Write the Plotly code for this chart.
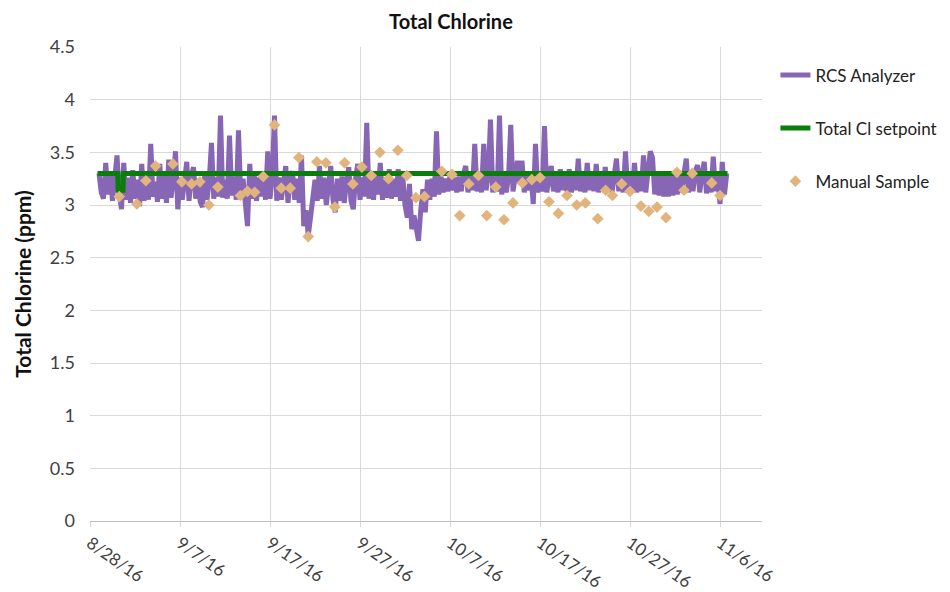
import pandas as pd
import plotly.graph_objects as go

# ---------------- data ----------------
# RCS Analyzer readings, 4 per day (every 6 h) starting 2016-08-29 00:00
rcs_start = "2016-08-29 00:00"
rcs_values = [
    3.30, 3.12, 3.06, 3.40,  # 8/29
    3.10, 3.28, 3.04, 3.22,  # 8/30
    3.47, 3.10, 2.96, 3.40,  # 8/31
    3.05, 3.26, 3.02, 3.33,  # 9/1
    3.06, 3.24, 2.99, 3.39,  # 9/2
    3.04, 3.27, 3.05, 3.58,  # 9/3
    3.08, 3.22, 3.03, 3.39,  # 9/4
    3.06, 3.28, 3.02, 3.43,  # 9/5
    3.07, 3.25, 3.51, 2.96,  # 9/6
    3.26, 3.05, 3.24, 3.41,  # 9/7
    3.04, 3.27, 3.36, 3.06,  # 9/8
    3.25, 3.03, 2.98, 3.28,  # 9/9
    3.05, 3.24, 3.59, 3.06,  # 9/10
    3.26, 3.08, 3.85, 3.07,  # 9/11
    3.24, 3.06, 3.66, 3.09,  # 9/12
    3.27, 3.05, 3.71, 3.08,  # 9/13
    3.25, 3.07, 2.80, 3.39,  # 9/14
    3.06, 3.28, 3.04, 3.26,  # 9/15
    3.08, 3.30, 3.05, 3.51,  # 9/16
    3.06, 3.27, 3.85, 3.04,  # 9/17
    3.26, 3.05, 3.24, 3.37,  # 9/18
    3.02, 3.26, 3.32, 3.05,  # 9/19
    3.25, 3.02, 3.47, 2.80,  # 9/20
    2.95, 2.71, 2.88, 3.05,  # 9/21
    3.24, 3.04, 3.37, 3.06,  # 9/22
    3.26, 3.00, 3.24, 3.37,  # 9/23
    3.05, 2.93, 3.25, 3.04,  # 9/24
    3.27, 3.02, 3.22, 3.36,  # 9/25
    3.04, 2.96, 3.25, 3.39,  # 9/26
    3.05, 3.26, 3.08, 3.78,  # 9/27
    3.06, 3.27, 3.05, 3.28,  # 9/28
    3.10, 3.40, 3.05, 3.26,  # 9/29
    3.07, 3.34, 3.06, 3.25,  # 9/30
    3.08, 3.34, 3.04, 3.27,  # 10/1
    3.00, 2.88, 3.20, 2.77,  # 10/2
    2.90, 2.80, 2.66, 2.95,  # 10/3
    3.15, 2.93, 3.24, 3.05,  # 10/4
    3.25, 3.08, 3.70, 3.10,  # 10/5
    3.27, 3.12, 3.25, 3.13,  # 10/6
    3.28, 3.14, 3.26, 3.12,  # 10/7
    3.27, 3.13, 3.30, 3.37,  # 10/8
    3.12, 3.28, 3.14, 3.58,  # 10/9
    3.13, 3.27, 3.12, 3.58,  # 10/10
    3.14, 3.28, 3.81, 3.12,  # 10/11
    3.27, 3.13, 3.85, 3.10,  # 10/12
    3.28, 3.12, 3.26, 3.76,  # 10/13
    3.13, 3.27, 3.42, 3.20,  # 10/14
    3.42, 3.12, 3.28, 3.14,  # 10/15
    3.27, 3.01, 3.58, 3.12,  # 10/16
    3.28, 3.13, 3.75, 3.12,  # 10/17
    3.27, 3.37, 3.13, 3.28,  # 10/18
    3.12, 3.34, 3.14, 3.29,  # 10/19
    3.13, 3.34, 3.12, 3.30,  # 10/20
    3.14, 3.44, 3.13, 3.29,  # 10/21
    3.12, 3.40, 3.14, 3.30,  # 10/22
    3.13, 3.39, 3.12, 3.31,  # 10/23
    3.14, 3.36, 3.13, 3.32,  # 10/24
    3.12, 3.30, 3.44, 3.13,  # 10/25
    3.30, 3.12, 3.51, 3.13,  # 10/26
    3.29, 3.14, 3.40, 3.12,  # 10/27
    3.30, 3.13, 3.47, 3.12,  # 10/28
    3.28, 3.51, 3.45, 3.10,  # 10/29
    3.30, 3.09, 3.32, 3.08,  # 10/30
    3.31, 3.08, 3.30, 3.09,  # 10/31
    3.32, 3.10, 3.31, 3.12,  # 11/1
    3.30, 3.44, 3.12, 3.31,  # 11/2
    3.13, 3.32, 3.38, 3.12,  # 11/3
    3.30, 3.41, 3.11, 3.31,  # 11/4
    3.12, 3.46, 3.13, 3.30,  # 11/5
    3.01, 3.41, 3.10, 3.30,  # 11/6
]
rcs_dates = pd.date_range(rcs_start, periods=len(rcs_values), freq="6h")

setpoint_dates = ["2016-08-28 20:00", "2016-08-31 02:00", "2016-08-31 03:00",
                  "2016-08-31 16:00", "2016-08-31 17:00", "2016-11-06 20:00"]
setpoint_values = [3.3, 3.3, 3.14, 3.14, 3.3, 3.3]

manual_dates = [
    "2016-08-31 06:00", "2016-09-02 05:00", "2016-09-03 05:00", "2016-09-04 07:00",
    "2016-09-06 05:00", "2016-09-07 05:00", "2016-09-08 07:00", "2016-09-09 05:00",
    "2016-09-10 05:00", "2016-09-11 05:00", "2016-09-13 17:00", "2016-09-14 12:00",
    "2016-09-15 07:00", "2016-09-16 06:00", "2016-09-17 12:00", "2016-09-18 06:00",
    "2016-09-19 06:00", "2016-09-20 05:00", "2016-09-21 06:00", "2016-09-22 05:00",
    "2016-09-23 05:00", "2016-09-24 05:00", "2016-09-25 07:00", "2016-09-26 05:00",
    "2016-09-27 05:00", "2016-09-28 06:00", "2016-09-29 05:00", "2016-09-30 04:00",
    "2016-10-01 05:00", "2016-10-02 05:00", "2016-10-03 05:00", "2016-10-04 04:00",
    "2016-10-06 02:00", "2016-10-07 05:00", "2016-10-08 02:00", "2016-10-09 02:00",
    "2016-10-10 04:00", "2016-10-11 02:00", "2016-10-12 02:00", "2016-10-13 00:00",
    "2016-10-14 00:00", "2016-10-15 01:00", "2016-10-16 02:00", "2016-10-17 00:00",
    "2016-10-18 00:00", "2016-10-19 01:00", "2016-10-20 00:00", "2016-10-21 02:00",
    "2016-10-22 01:00", "2016-10-23 10:00", "2016-10-24 07:00", "2016-10-25 01:00",
    "2016-10-26 02:00", "2016-10-27 00:00", "2016-10-28 05:00", "2016-10-29 02:00",
    "2016-10-30 00:00", "2016-10-31 00:00", "2016-11-01 05:00", "2016-11-02 00:00",
    "2016-11-02 22:00", "2016-11-05 02:00", "2016-11-06 00:00",
]
manual_values = [
    3.08, 3.01, 3.23, 3.37, 3.39, 3.22, 3.20, 3.22, 3.00, 3.17,
    3.09, 3.13, 3.12, 3.27, 3.76, 3.16, 3.16, 3.45, 2.70, 3.41,
    3.40, 2.98, 3.40, 3.20, 3.36, 3.28, 3.50, 3.25, 3.52, 3.28,
    3.07, 3.08, 3.32, 3.29, 2.90, 3.20, 3.28, 2.90, 3.17, 2.86,
    3.02, 3.21, 3.24, 3.26, 3.03, 2.92, 3.09, 3.00, 3.02, 2.87,
    3.14, 3.09, 3.20, 3.13, 2.99, 2.94, 2.98, 2.88, 3.31, 3.14,
    3.30, 3.21, 3.09,
]

x_tick_dates = ["2016-08-28", "2016-09-07", "2016-09-17", "2016-09-27",
                "2016-10-07", "2016-10-17", "2016-10-27", "2016-11-06"]
x_tick_labels = ["8/28/16", "9/7/16", "9/17/16", "9/27/16",
                 "10/7/16", "10/17/16", "10/27/16", "11/6/16"]
y_tick_values = [0, 0.5, 1, 1.5, 2, 2.5, 3, 3.5, 4, 4.5]
y_tick_labels = ["0", "0.5", "1", "1.5", "2", "2.5", "3", "3.5", "4", "4.5"]

# ---------------- figure ----------------
FONT = "Lato, 'Open Sans', sans-serif"
fig = go.Figure()
fig.add_trace(go.Scatter(
    x=rcs_dates, y=rcs_values, mode="lines", name="RCS Analyzer",
    line=dict(color="#8766b5", width=5), legendgroup="a"))
fig.add_trace(go.Scatter(
    x=setpoint_dates, y=setpoint_values, mode="lines", name="Total Cl setpoint",
    line=dict(color="#0a7d0a", width=5), legendgroup="b"))
fig.add_trace(go.Scatter(
    x=manual_dates, y=manual_values, mode="markers", name="Manual Sample",
    marker=dict(symbol="diamond", size=9, color="#e0b47c"), legendgroup="c"))

fig.update_layout(
    width=950, height=592,
    margin=dict(l=90, r=188, t=47, b=71, autoexpand=False),
    paper_bgcolor="white", plot_bgcolor="white",
    font=dict(family=FONT, color="#404040", size=17),
    title=dict(text="<b>Total Chlorine</b>", x=0.4747, xref="container", xanchor="center",
               y=0.963, yref="container", yanchor="middle",
               font=dict(family=FONT, size=20, color="#111111")),
    legend=dict(x=1.02, y=0.978, xanchor="left", yanchor="top",
                font=dict(family=FONT, size=17, color="#222222"),
                tracegroupgap=28, itemwidth=30, bgcolor="rgba(0,0,0,0)"),
    showlegend=True,
)
fig.update_xaxes(
    type="date", range=["2016-08-28", "2016-11-10 16:00"],
    tickvals=x_tick_dates, ticktext=x_tick_labels, tickangle=35,
    showgrid=True, gridcolor="#d9d9d9", gridwidth=1,
    showline=True, linecolor="#bfbfbf", linewidth=1,
    ticks="outside", ticklen=5, tickcolor="#d9d9d9",
    tickfont=dict(family=FONT, size=17, color="#404040"),
    zeroline=False, automargin=False,
)
fig.update_yaxes(
    range=[0, 4.5], tickvals=y_tick_values, ticktext=y_tick_labels,
    showgrid=True, gridcolor="#d9d9d9", gridwidth=1,
    showline=False, zeroline=False, ticks="", ticklabelstandoff=14,
    tickfont=dict(family=FONT, size=18, color="#404040"),
    automargin=False,
    title=dict(text="<b>Total Chlorine (ppm)</b>", standoff=12,
               font=dict(family=FONT, size=21, color="#111111")),
)

fig.write_html("out.html", config={"displayModeBar": False},
               post_script="document.body.style.margin='0';document.body.style.overflow='hidden';")
